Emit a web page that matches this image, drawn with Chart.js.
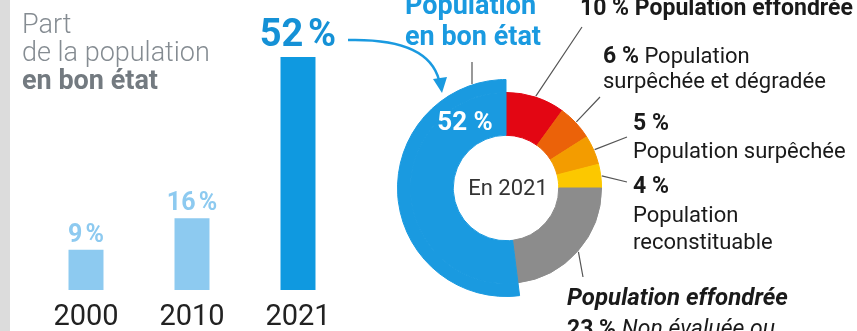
<!DOCTYPE html>
<html lang="fr">
<head>
<meta charset="utf-8">
<title>Part de la population en bon état</title>
<script src="https://cdn.jsdelivr.net/npm/chart.js@4.4.1/dist/chart.umd.min.js"></script>
<style>
  html, body { margin: 0; padding: 0; background: #fff; }
  #wrap { position: relative; width: 857px; height: 331px; overflow: hidden; background: #fff; }
  #strip { position: absolute; left: 0; top: 0; width: 10px; height: 331px; background: #dcdcdc; }
  canvas, svg { position: absolute; left: 0; top: 0; }
  svg text { font-family: Roboto, sans-serif; }
</style>
</head>
<body>
<div id="wrap">
  <div id="strip"></div>
  <canvas id="bar-chart" width="857" height="331"></canvas>
  <canvas id="ring-chart" width="857" height="331"></canvas>
  <svg width="857" height="331" viewBox="0 0 857 331">
    <!-- left title -->
    <text x="22" y="33" font-size="27" font-weight="300" fill="#858c92">Part</text>
    <text x="22" y="61" font-size="27" font-weight="300" fill="#858c92">de la population</text>
    <text x="22" y="89" font-size="27" font-weight="700" fill="#737a80">en bon état</text>

    <!-- arrow from the 2021 value to the ring -->
    <path d="M348,40 Q428,38 439,80" fill="none" stroke="#1a9ae0" stroke-width="2.5"/>
    <polygon points="442,93 433,79 447,77" fill="#1a9ae0"/>

    <text x="405" y="14" font-size="27" font-weight="700" fill="#1a9ae0">Population</text>
    <text x="405" y="45" font-size="27" font-weight="700" fill="#1a9ae0">en bon état</text>

    <text x="465" y="130" font-size="26" font-weight="700" fill="#fff" text-anchor="middle">52 %</text>
    <text x="508" y="195" font-size="22" font-weight="400" fill="#333" text-anchor="middle">En 2021</text>

    <!-- status labels -->
    <text x="580" y="15" font-size="23" font-weight="700" fill="#1a1a1a">10 % Population effondrée</text>
    <text x="603" y="63" font-size="22" fill="#1a1a1a"><tspan font-weight="700" font-size="23">6 %</tspan> Population</text>
    <text x="603" y="88" font-size="22" fill="#1a1a1a">surpêchée et dégradée</text>
    <text x="633" y="130" font-size="23" font-weight="700" fill="#1a1a1a">5 %</text>
    <text x="633" y="158" font-size="22" fill="#1a1a1a">Population surpêchée</text>
    <text x="633" y="193" font-size="23" font-weight="700" fill="#1a1a1a">4 %</text>
    <text x="633" y="222" font-size="22" fill="#1a1a1a">Population</text>
    <text x="633" y="249" font-size="22" fill="#1a1a1a">reconstituable</text>
    <text x="567" y="305" font-size="24" font-weight="700" font-style="italic" fill="#1a1a1a">Population effondrée</text>
    <text x="567" y="336" font-size="23" fill="#1a1a1a"><tspan font-weight="700">23 %</tspan> <tspan font-style="italic">Non évaluée ou</tspan></text>
  </svg>
</div>

<script>
// Share of the population in good condition, per year
const years = ['2000', '2010', '2021'];
const goodShare = [9, 16, 52];
const barColors = ['#8dcaf0', '#8dcaf0', '#0f99e0'];

// Breakdown of the population in 2021 (clockwise from the top)
const stockStatus = [
    'Population effondrée',
    'Population surpêchée et dégradée',
    'Population surpêchée',
    'Population reconstituable',
    'Non évaluée ou effondrée',
    'Population en bon état'
];
const stockShare = [10, 6, 5, 4, 23, 52];
const stockColors = ['#e30613', '#eb6209', '#f39c00', '#fcc800', '#8c8c8c', '#1a9ae0'];

// Where each leader line ends, next to its label
const leaderEnds = [[582, 27], [600, 97], [627, 137], [627, 182], [583, 277]];

// Value above each bar, the latest one larger and darker
const barValueLabels = {
    id: 'barValueLabels',
    afterDatasetsDraw(chart) {
        const ctx = chart.ctx;
        const meta = chart.getDatasetMeta(0);
        meta.data.forEach((bar, i) => {
            const last = i === meta.data.length - 1;
            ctx.save();
            ctx.font = (last ? '700 38px' : '700 25px') + ' Roboto, sans-serif';
            ctx.fillStyle = last ? '#1591d6' : '#8dcaf0';
            ctx.textAlign = 'center';
            ctx.textBaseline = 'alphabetic';
            ctx.fillText(goodShare[i] + '\u202f%', bar.x, bar.y - (last ? 11 : 8));
            ctx.restore();
        });
    }
};

// Thin leader lines from the ring to the labels
const ringLeaders = {
    id: 'ringLeaders',
    afterDraw(chart) {
        const ctx = chart.ctx;
        const inner = chart.getDatasetMeta(1).data;
        const outerBlue = chart.getDatasetMeta(0).data[5];
        ctx.save();
        ctx.strokeStyle = '#333';
        ctx.lineWidth = 1.2;
        ctx.beginPath();
        leaderEnds.forEach(([ex, ey], i) => {
            const arc = inner[i];
            const a = (arc.startAngle + arc.endAngle) / 2;
            const r = arc.outerRadius + 1;
            ctx.moveTo(arc.x + Math.cos(a) * r, arc.y + Math.sin(a) * r);
            ctx.lineTo(ex, ey);
        });
        // short tick above the blue segment
        const lx = 472;
        const dy = Math.sqrt(outerBlue.outerRadius ** 2 - (lx - outerBlue.x) ** 2);
        ctx.moveTo(lx, 62);
        ctx.lineTo(lx, outerBlue.y - dy - 1);
        ctx.strokeStyle = '#555';
        ctx.stroke();
        ctx.restore();
    }
};

new Chart(document.getElementById('bar-chart').getContext('2d'), {
    type: 'bar',
    data: {
        labels: years,
        datasets: [{
            data: goodShare,
            backgroundColor: barColors,
            borderWidth: 0,
            barPercentage: 0.33,
            categoryPercentage: 1
        }]
    },
    options: {
        responsive: false,
        animation: false,
        layout: { padding: { left: 33, right: 506, top: 57, bottom: -14 } },
        plugins: { legend: { display: false }, tooltip: { enabled: false } },
        scales: {
            x: {
                grid: { display: false, drawTicks: false },
                border: { display: false },
                ticks: {
                    color: '#222',
                    padding: 13,
                    font: { family: 'Roboto', size: 29, weight: 400, lineHeight: 1 }
                }
            },
            y: { display: false, min: 0, max: 52 }
        }
    },
    plugins: [barValueLabels]
});

new Chart(document.getElementById('ring-chart').getContext('2d'), {
    type: 'doughnut',
    data: {
        labels: stockStatus,
        datasets: [
            {
                // outer band: only the good-condition share sticks out
                data: stockShare,
                backgroundColor: stockColors.map((c, i) => i === 5 ? c : 'rgba(0,0,0,0)'),
                borderColor: stockColors.map((c, i) => i === 5 ? c : 'rgba(0,0,0,0)'),
                borderWidth: 1,
                weight: 13
            },
            {
                data: stockShare,
                backgroundColor: stockColors,
                borderColor: stockColors,
                borderWidth: 1,
                weight: 43
            }
        ]
    },
    options: {
        responsive: false,
        animation: false,
        cutout: '48.6%',
        layout: { padding: { left: 397, top: 79, right: 242, bottom: 34 } },
        plugins: { legend: { display: false }, tooltip: { enabled: false } }
    },
    plugins: [ringLeaders]
});
</script>
</body>
</html>
